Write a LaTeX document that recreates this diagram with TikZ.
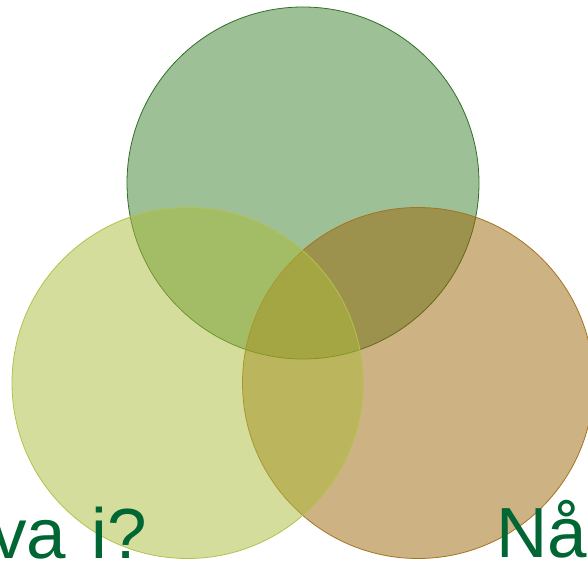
\documentclass[tikz,border=0pt]{standalone}
\usepackage{fontspec}
\setmainfont{Liberation Sans}
\definecolor{topgreen}{RGB}{59,129,47}
\definecolor{leftlime}{RGB}{171,187,57}
\definecolor{rightbrown}{RGB}{155,101,7}
\definecolor{titlegreen}{RGB}{0,102,51}
\begin{document}
\begin{tikzpicture}[x=1pt, y=1pt]
  \useasboundingbox (0,0) rectangle (588,561);
  % Centres of the three circles
  \coordinate (G) at (303,378);
  \coordinate (L) at (187.5,178);
  \coordinate (R) at (418,178);

  % Circles: green first, brown, then lime on top
  \draw[line width=0.8pt, draw=topgreen!85!black, fill=topgreen, fill opacity=0.5] (G) circle (176);
  \draw[line width=0.8pt, draw=rightbrown!90, fill=rightbrown, fill opacity=0.5] (R) circle (175.5);
  \draw[line width=0.8pt, draw=leftlime!90, fill=leftlime, fill opacity=0.5] (L) circle (175.5);

  % Labels, cut by the page edge
  \node[anchor=base west, inner sep=0pt, text=titlegreen, font=\fontsize{71}{71}\selectfont] (leftlabel) at (-9,2.5) {va\kern6pt{} i?};
  \node[anchor=base west, inner sep=0pt, text=titlegreen, font=\fontsize{71}{71}\selectfont] (rightlabel) at (496.5,3) {Nå};
\end{tikzpicture}
\end{document}
